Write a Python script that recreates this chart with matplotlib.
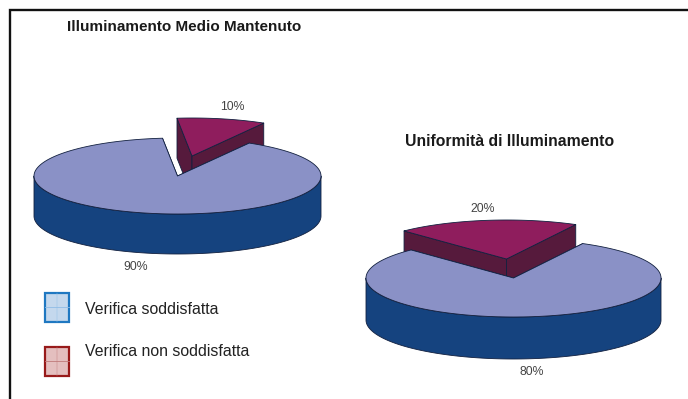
import numpy as np
import matplotlib
matplotlib.use('Agg')
import matplotlib.pyplot as plt
from matplotlib.patches import Polygon, Rectangle

plt.rcParams['font.family'] = ['Liberation Sans', 'DejaVu Sans']

W, H = 688, 399

left_title = 'Illuminamento Medio Mantenuto'
right_title = 'Uniformità di Illuminamento'
legend_labels = ['Verifica soddisfatta', 'Verifica non soddisfatta']
left_values = [90, 10]
right_values = [80, 20]

BLUE_TOP = '#8a91c6'
BLUE_SIDE = '#15437f'
RED_TOP = '#8f1d5d'
RED_SIDE = '#561a3c'
EDGE = '#12203f'


def rim(cx, cy, rx, ry, a0, a1, n=200):
    # angles are clockwise from the top of the ellipse, in degrees
    t = np.radians(np.linspace(a0, a1, n))
    return cx + rx * np.sin(t), cy - ry * np.cos(t)


def draw_poly(ax, x, y, color, z, edge=EDGE):
    ax.add_patch(Polygon(np.column_stack([x, y]), closed=True, facecolor=color,
                         edgecolor=edge, linewidth=0.6, zorder=z, joinstyle='round'))


def draw_slice(ax, cx, cy, rx, ry, depth, a0, a1, top, side, z):
    # the two cut faces go first, the outer wall covers what sticks out of them
    for a in (a0, a1):
        x, y = rim(cx, cy, rx, ry, a, a, 1)
        draw_poly(ax, [cx, x[0], x[0], cx], [cy, y[0], y[0] + depth, cy + depth], side, z)
    # only the part of the wall facing the viewer
    lo, hi = max(a0, 90), min(a1, 270)
    if lo < hi:
        x, y = rim(cx, cy, rx, ry, lo, hi)
        draw_poly(ax, np.r_[x, x[::-1]], np.r_[y, y[::-1] + depth], side, z)
    x, y = rim(cx, cy, rx, ry, a0, a1)
    draw_poly(ax, np.r_[cx, x], np.r_[cy, y], top, z + 1)


def draw_pie(ax, cx, cy, rx, ry, depth, values, start, shift):
    small = values[1] / sum(values) * 360
    # the small slice is pulled out behind the big one, so it goes down first
    draw_slice(ax, cx + shift[0], cy + shift[1], rx, ry, depth, start, start + small,
               RED_TOP, RED_SIDE, 2)
    draw_slice(ax, cx, cy, rx, ry, depth, start + small, start + 360,
               BLUE_TOP, BLUE_SIDE, 4)


fig = plt.figure(figsize=(W / 100, H / 100), dpi=100)
ax = fig.add_axes([0, 0, 1, 1])
ax.set_xlim(0, W)
ax.set_ylim(H, 0)
ax.axis('off')

# frame: left side and top only, both run off the sheet
ax.plot([9.5, 9.5, W], [H, 9.5, 9.5], color='#111111', lw=1.7,
        solid_joinstyle='miter', zorder=1)

draw_pie(ax, 177.5, 176, 143.5, 38, 40, left_values, -6, (14.5, -20))
draw_pie(ax, 513.5, 278, 147.5, 39, 42, right_values, -44, (-7, -19))

ax.text(184.5, 27, left_title, ha='center', va='center', fontsize=11,
        fontweight='bold', color='#1a1a1a')
ax.text(510, 141, right_title, ha='center', va='center', fontsize=11.3,
        fontweight='bold', color='#1a1a1a')

for px, py, v in [(232, 107, left_values[1]), (135.5, 267, left_values[0]),
                  (483, 209, right_values[1]), (532, 372, right_values[0])]:
    ax.text(px, py, f'{v}%', ha='center', va='center', fontsize=8.8, color='#444444')

# legend swatches with their thin cross lines
swatches = [(44.5, 292.5, '#c4d8ed', '#1f78c1', '#8fbce6'),
            (44.5, 347, '#e4bfbf', '#981a1a', '#c07a7a')]
for (sx, sy, fc, ec, lc), label, ty in zip(swatches, legend_labels, (309, 352)):
    ax.add_patch(Rectangle((sx, sy), 24, 29, facecolor=fc, edgecolor=ec, linewidth=1.6, zorder=3))
    ax.plot([sx, sx + 24], [sy + 14, sy + 14], color=lc, lw=0.6, zorder=4)
    ax.plot([sx + 12, sx + 12], [sy, sy + 29], color=lc, lw=0.3, zorder=4)
    ax.text(85, ty, label, ha='left', va='center', fontsize=11.4, color='#222222')

fig.savefig('out.png', dpi=100)
